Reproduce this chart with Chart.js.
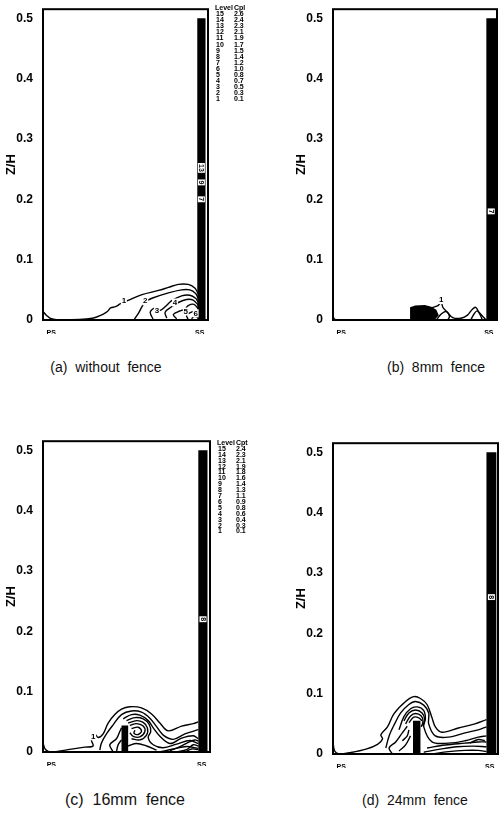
<!DOCTYPE html>
<html lang="en">
<head>
<meta charset="UTF-8">
<title>Cpt contours</title>
<script src="https://cdn.jsdelivr.net/npm/chart.js"></script>
<style>
    body { margin: 0; background: #fff; font-family: "Liberation Sans", Arial, sans-serif; }
    .wrap { position: relative; width: 500px; height: 818px; overflow: hidden; }
    .panel { position: absolute; }
    .cap { position: absolute; font-size: 14px; color: #111; white-space: pre; transform: translateX(-50%); }
</style>
</head>
<body>
<div class="wrap">
    <div class="panel" style="left:0;top:0;width:252px;height:334px"><canvas id="ca"></canvas></div>
    <div class="panel" style="left:290px;top:0;width:210px;height:334px"><canvas id="cb"></canvas></div>
    <div class="panel" style="left:0;top:432px;width:254px;height:334px"><canvas id="cc"></canvas></div>
    <div class="panel" style="left:290px;top:434px;width:210px;height:334px"><canvas id="cd"></canvas></div>
    <div class="cap" style="left:106px;top:359px">(a)  without  fence</div>
    <div class="cap" style="left:436px;top:359px">(b)  8mm  fence</div>
    <div class="cap" style="left:125px;top:791px;font-size:16px">(c)  16mm  fence</div>
    <div class="cap" style="left:415px;top:792px">(d)  24mm  fence</div>
</div>
<script>
// axis ticks
var yTicks = [0, 0.1, 0.2, 0.3, 0.4, 0.5];
var xTickPos = [0.05, 0.95];
var xTickText = ['PS', 'SS'];

// legend tables
var levels = [15, 14, 13, 12, 11, 10, 9, 8, 7, 6, 5, 4, 3, 2, 1];
var cplA = ['2.6', '2.4', '2.3', '2.1', '1.9', '1.7', '1.5', '1.4', '1.2', '1.0', '0.8', '0.7', '0.5', '0.3', '0.1'];
var cplC = ['2.4', '2.3', '2.1', '1.9', '1.8', '1.6', '1.4', '1.3', '1.1', '0.9', '0.8', '0.6', '0.4', '0.3', '0.1'];

// (a) without fence : contour lines [x, z/h]
var wallA = [[0.935, 0], [0.935, 0.5], [0.985, 0.5], [0.985, 0]];
var linesA = [
    [[0, 0.014], [0.02, 0.008], [0.05, 0.002], [0.12, 0], [0.3, 0.003], [0.36, 0.009], [0.39, 0.014], [0.41, 0.02], [0.44, 0.022], [0.47, 0.027], [0.52, 0.033], [0.6, 0.042], [0.7, 0.049], [0.76, 0.054], [0.82, 0.059], [0.88, 0.059], [0.92, 0.053], [0.94, 0.044]],
    [[0.55, 0], [0.58, 0.012], [0.6, 0.022], [0.62, 0.03], [0.66, 0.036], [0.76, 0.045], [0.84, 0.05], [0.89, 0.05], [0.925, 0.044], [0.94, 0.036]],
    [[0.67, 0], [0.65, 0.013], [0.68, 0.02], [0.71, 0.016], [0.74, 0.022], [0.78, 0.032], [0.84, 0.04], [0.89, 0.041], [0.925, 0.036], [0.94, 0.03]],
    [[0.75, 0.003], [0.74, 0.013], [0.78, 0.022], [0.82, 0.029], [0.87, 0.034], [0.91, 0.033], [0.94, 0.025]],
    [[0.81, 0.002], [0.79, 0.009], [0.83, 0.015], [0.86, 0.018], [0.88, 0.024], [0.915, 0.026], [0.94, 0.019]],
    [[0.88, 0.001], [0.87, 0.008], [0.9, 0.013], [0.925, 0.015], [0.94, 0.011]],
    [[0.9, 0.002], [0.92, 0.006], [0.94, 0.004]]
];
var labelsA = [['1', 0.49, 0.032], ['2', 0.62, 0.031], ['3', 0.69, 0.016], ['4', 0.8, 0.029], ['5', 0.865, 0.014], ['6', 0.925, 0.011]];
var wallLabelsA = [['7', 0.96, 0.2], ['9', 0.96, 0.228], ['13', 0.96, 0.252]];

// (b) 8mm fence
var wallB = [[0.935, 0], [0.935, 0.5], [0.995, 0.5], [0.995, 0]];
var blockB = [[0.47, 0], [0.47, 0.021], [0.5, 0.024], [0.56, 0.025], [0.6, 0.022], [0.63, 0.017], [0.645, 0.008], [0.62, 0]];
var innerB = [
    [[0.49, 0.005], [0.52, 0.012], [0.56, 0.013], [0.6, 0.01], [0.62, 0.004]],
    [[0.5, 0.016], [0.55, 0.019], [0.59, 0.016]]
];
var linesB = [
    [[0, 0.006], [0.01, 0.001], [0.03, 0]],
    [[0.6, 0.02], [0.64, 0.024], [0.66, 0.029], [0.67, 0.021], [0.7, 0.012], [0.73, 0.004], [0.78, 0.003], [0.82, 0.008], [0.85, 0.018], [0.87, 0.021], [0.89, 0.013], [0.92, 0.004], [0.935, 0]],
    [[0.63, 0], [0.66, 0.01], [0.69, 0.014], [0.71, 0.006], [0.7, 0]],
    [[0.84, 0], [0.86, 0.01], [0.88, 0.015], [0.9, 0.007], [0.91, 0]]
];
var labelsB = [['1', 0.66, 0.033]];
var wallLabelsB = [['7', 0.965, 0.18]];

// (c) 16mm fence
var wallC = [[0.93, 0], [0.93, 0.5], [0.985, 0.5], [0.985, 0]];
var fenceC = [[0.47, 0], [0.47, 0.044], [0.51, 0.044], [0.51, 0]];
var linesC = [
    [[0, 0.015], [0.015, 0.004], [0.05, 0], [0.15, 0.004], [0.25, 0.008], [0.3, 0.01], [0.29, 0.02], [0.31, 0.03], [0.33, 0.024], [0.36, 0.03], [0.39, 0.048], [0.43, 0.062], [0.47, 0.071], [0.52, 0.075], [0.59, 0.073], [0.65, 0.063], [0.7, 0.048], [0.75, 0.035], [0.83, 0.043], [0.9, 0.047], [0.93, 0.05]],
    [[0.34, 0.003], [0.35, 0.015], [0.38, 0.03], [0.42, 0.045], [0.47, 0.062], [0.53, 0.068], [0.59, 0.066], [0.64, 0.056], [0.68, 0.042], [0.72, 0.028], [0.78, 0.021], [0.85, 0.03], [0.93, 0.037]],
    [[0.48, 0.055], [0.53, 0.062], [0.58, 0.061], [0.63, 0.052], [0.66, 0.04], [0.7, 0.026], [0.76, 0.014], [0.83, 0.023], [0.9, 0.027], [0.93, 0.022]],
    [[0.5, 0.052], [0.55, 0.057], [0.6, 0.055], [0.635, 0.046], [0.645, 0.034], [0.63, 0.024], [0.66, 0.012], [0.72, 0.007], [0.8, 0.013], [0.88, 0.019], [0.93, 0.014]],
    [[0.51, 0.048], [0.56, 0.052], [0.6, 0.049], [0.625, 0.04], [0.62, 0.028], [0.58, 0.02], [0.53, 0.022]],
    [[0.52, 0.044], [0.56, 0.047], [0.6, 0.043], [0.61, 0.034], [0.58, 0.025], [0.54, 0.026], [0.52, 0.032]],
    [[0.53, 0.039], [0.57, 0.041], [0.59, 0.035], [0.57, 0.029], [0.545, 0.031], [0.55, 0.036]],
    [[0.42, 0], [0.4, 0.012], [0.44, 0.022], [0.46, 0.034], [0.47, 0.04]],
    [[0.44, 0], [0.45, 0.012], [0.47, 0.02]],
    [[0.51, 0.01], [0.56, 0.014], [0.62, 0.01], [0.68, 0.003]],
    [[0.7, 0], [0.78, 0.005], [0.86, 0.009], [0.93, 0.006]],
    [[0.76, 0.002], [0.82, 0.009], [0.87, 0.016], [0.91, 0.02], [0.93, 0.018]],
    [[0.8, 0], [0.86, 0.004], [0.9, 0.012], [0.93, 0.01]],
    [[0.85, 0], [0.89, 0.005], [0.93, 0.004]]
];
var labelsC = [['1', 0.3, 0.026]];
var wallLabelsC = [['8', 0.958, 0.22]];

// (d) 24mm fence
var wallD = [[0.93, 0], [0.93, 0.5], [0.99, 0.5], [0.99, 0]];
var fenceD = [[0.485, 0], [0.485, 0.055], [0.53, 0.055], [0.53, 0]];
var linesD = [
    [[0, 0.02], [0.01, 0.005], [0.04, 0], [0.1, 0.002], [0.2, 0.008], [0.27, 0.016], [0.3, 0.025], [0.29, 0.032], [0.33, 0.045], [0.37, 0.067], [0.44, 0.087], [0.49, 0.095], [0.53, 0.092], [0.57, 0.082], [0.6, 0.06], [0.62, 0.045], [0.66, 0.036], [0.76, 0.043], [0.86, 0.05], [0.93, 0.057]],
    [[0.32, 0.01], [0.34, 0.03], [0.37, 0.048], [0.41, 0.068], [0.46, 0.082], [0.5, 0.087], [0.55, 0.081], [0.58, 0.068], [0.58, 0.05], [0.62, 0.03], [0.7, 0.028], [0.8, 0.035], [0.88, 0.04], [0.93, 0.045]],
    [[0.4, 0.04], [0.43, 0.062], [0.47, 0.075], [0.51, 0.078], [0.55, 0.072], [0.56, 0.058], [0.55, 0.045], [0.6, 0.02], [0.7, 0.018], [0.8, 0.022], [0.88, 0.028], [0.93, 0.03]],
    [[0.43, 0.055], [0.46, 0.068], [0.5, 0.073], [0.54, 0.068], [0.555, 0.058], [0.545, 0.046]],
    [[0.44, 0.05], [0.47, 0.063], [0.5, 0.067], [0.535, 0.063], [0.545, 0.054], [0.535, 0.045]],
    [[0.46, 0.052], [0.49, 0.061], [0.52, 0.06], [0.54, 0.055]],
    [[0.36, 0], [0.34, 0.01], [0.38, 0.02], [0.42, 0.035], [0.45, 0.046]],
    [[0.4, 0.005], [0.44, 0.015], [0.47, 0.03]],
    [[0.42, 0.022], [0.45, 0.03], [0.46, 0.04]],
    [[0.55, 0.003], [0.65, 0.008], [0.75, 0.012], [0.85, 0.013], [0.93, 0.012]],
    [[0.6, 0], [0.7, 0.004], [0.8, 0.006], [0.88, 0.006], [0.93, 0.004]],
    [[0.57, 0.01], [0.68, 0.015], [0.8, 0.018], [0.88, 0.02], [0.93, 0.02]],
    [[0.83, 0.018], [0.88, 0.024], [0.92, 0.022]]
];
var labelsD = [];
var wallLabelsD = [['8', 0.96, 0.26]];

function toPts(arr) {
    return arr.map(function (p) { return { x: p[0], y: p[1] }; });
}

function solid(arr) {
    return { data: toPts(arr), showLine: true, fill: 'shape', borderWidth: 0, backgroundColor: '#000', borderColor: '#000', pointRadius: 0 };
}

function contour(arr, color) {
    return { data: toPts(arr), showLine: true, fill: false, borderWidth: 1.4, borderColor: color || '#000', pointRadius: 0, tension: 0.35 };
}

var framePlugin = {
    id: 'frame',
    afterDatasetsDraw: function (chart) {
        var a = chart.chartArea, ctx = chart.ctx, o = chart.options.plugins.frame;
        ctx.save();
        ctx.strokeStyle = '#000';
        ctx.lineWidth = 2;
        ctx.strokeRect(a.left, a.top, a.right - a.left, a.bottom - a.top);
        ctx.textAlign = 'center';
        ctx.textBaseline = 'middle';
        ctx.font = 'bold 8px "Liberation Sans", Arial';
        (o.labels || []).forEach(function (l) {
            var px = chart.scales.x.getPixelForValue(l[1]);
            var py = chart.scales.y.getPixelForValue(l[2]);
            ctx.fillStyle = '#fff';
            ctx.fillRect(px - 3, py - 4, 6, 8);
            ctx.fillStyle = '#000';
            ctx.fillText(l[0], px, py);
        });
        // small level tags inside the suction-side band
        ctx.font = 'bold 7px "Liberation Sans", Arial';
        (o.wallLabels || []).forEach(function (l) {
            var px = chart.scales.x.getPixelForValue(l[1]);
            var py = chart.scales.y.getPixelForValue(l[2]);
            ctx.save();
            ctx.translate(px, py);
            ctx.rotate(Math.PI / 2);
            var w = ctx.measureText(l[0]).width + 2;
            ctx.fillStyle = '#fff';
            ctx.fillRect(-w / 2, -3.5, w, 7);
            ctx.fillStyle = '#000';
            ctx.fillText(l[0], 0, 0);
            ctx.restore();
        });
        // level / Cpt table
        if (o.table) {
            ctx.font = 'bold 7px "Liberation Sans", Arial';
            ctx.textAlign = 'left';
            ctx.fillStyle = '#000';
            var x0 = a.right + o.table.dx, y0 = o.table.y;
            ctx.fillText('Level', x0, y0);
            ctx.fillText(o.table.head, x0 + 19, y0);
            levels.forEach(function (lv, i) {
                ctx.fillText(String(lv), x0 + 1, y0 + (i + 1) * o.table.step);
                ctx.fillText(o.table.cpl[i], x0 + 19, y0 + (i + 1) * o.table.step);
            });
        }
        ctx.restore();
    }
};

function makeChart(id, sets, extra, padRight) {
    new Chart(document.getElementById(id), {
        type: 'scatter',
        data: { datasets: sets },
        options: {
            responsive: true,
            maintainAspectRatio: false,
            animation: false,
            layout: { padding: { top: 1, right: padRight, left: 0, bottom: 0 } },
            plugins: { legend: { display: false }, tooltip: { enabled: false }, frame: extra },
            scales: {
                x: {
                    type: 'linear', min: 0, max: 1,
                    grid: { display: false },
                    border: { display: false },
                    afterBuildTicks: function (s) { s.ticks = xTickPos.map(function (v) { return { value: v }; }); },
                    afterFit: function (s) { s.height = 14; },
                    ticks: {
                        autoSkip: false, maxRotation: 0, padding: 1, color: '#000',
                        font: { size: 7, weight: 'bold', family: 'Liberation Sans' },
                        callback: function (v) { return xTickText[xTickPos.indexOf(v)]; }
                    }
                },
                y: {
                    type: 'linear', min: 0, max: 0.515,
                    grid: { display: false },
                    border: { display: false },
                    afterBuildTicks: function (s) { s.ticks = yTicks.map(function (v) { return { value: v }; }); },
                    afterFit: function (s) { s.width = 43; },
                    title: { display: true, text: 'Z/H', color: '#000', padding: { top: 4, bottom: 0 }, font: { size: 13, weight: 'bold', family: 'Liberation Sans' } },
                    ticks: {
                        padding: 2, color: '#000',
                        font: { size: 12, weight: 'bold', family: 'Liberation Sans' },
                        callback: function (v) { return v === 0 ? '0' : v.toFixed(1); }
                    }
                }
            }
        },
        plugins: [framePlugin]
    });
}

makeChart('ca', [solid(wallA)].concat(linesA.map(function (l) { return contour(l); })),
    { labels: labelsA, wallLabels: wallLabelsA, table: { dx: 7, y: 8, step: 6.1, head: 'Cpl', cpl: cplA } }, 44);
makeChart('cb', [solid(wallB), solid(blockB)].concat(innerB.map(function (l) { return contour(l, '#fff'); })).concat(linesB.map(function (l) { return contour(l); })),
    { labels: labelsB, wallLabels: wallLabelsB }, 3);
makeChart('cc', [solid(wallC), solid(fenceC)].concat(linesC.map(function (l) { return contour(l); })),
    { labels: labelsC, wallLabels: wallLabelsC, table: { dx: 7, y: 11, step: 5.9, head: 'Cpt', cpl: cplC } }, 44);
makeChart('cd', [solid(wallD), solid(fenceD)].concat(linesD.map(function (l) { return contour(l); })),
    { labels: labelsD, wallLabels: wallLabelsD }, 2);
</script>
</body>
</html>
